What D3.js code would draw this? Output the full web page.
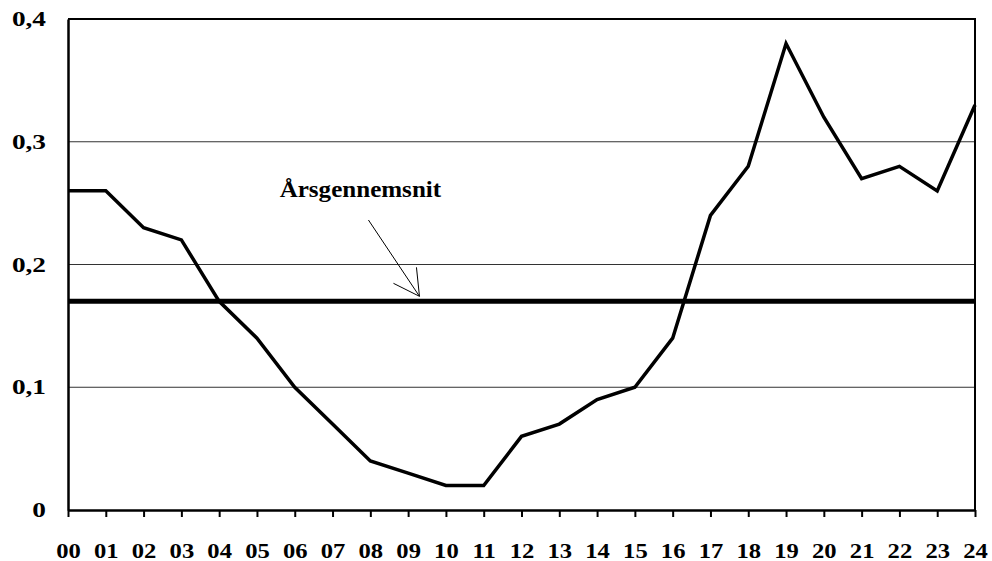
<!DOCTYPE html>
<html>
<head>
<meta charset="utf-8">
<script src="https://cdn.jsdelivr.net/npm/d3@7"></script>
<style>
  body { margin: 0; background: #fff; }
  svg text { font-family: "Liberation Serif", "DejaVu Serif", serif; fill: #000; }
  .wide { transform-box: fill-box; }
</style>
</head>
<body>
<svg id="chart" width="992" height="561"></svg>
<script>
// hours on the x axis
const hours = ["00","01","02","03","04","05","06","07","08","09","10","11","12",
               "13","14","15","16","17","18","19","20","21","22","23","24"];
// hourly values
const values = [0.26,0.26,0.23,0.22,0.17,0.14,0.10,0.07,0.04,0.03,0.02,0.02,0.06,
                0.07,0.09,0.10,0.14,0.24,0.28,0.38,0.32,0.27,0.28,0.26,0.33];
const yearAverage = 0.17;
const yTicks = [0, 0.1, 0.2, 0.3, 0.4];
const yTickLabels = ["0", "0,1", "0,2", "0,3", "0,4"];
const noteText = "Årsgennemsnit";

const margin = {left: 68, right: 17, top: 19, bottom: 51};
const width = 992, height = 561;

const svg = d3.select("#chart");

const x = d3.scalePoint()
    .domain(hours)
    .range([margin.left, width - margin.right]);

const y = d3.scaleLinear()
    .domain([0, 0.4])
    .range([height - margin.bottom, margin.top]);

// gridlines
svg.append("g")
    .selectAll("line")
    .data(yTicks.filter(d => d > 0 && d < 0.4))
    .enter()
    .append("line")
    .attr("x1", margin.left)
    .attr("x2", width - margin.right)
    .attr("y1", d => y(d))
    .attr("y2", d => y(d))
    .style("stroke", "#333")
    .style("stroke-width", 1);

// frame: top and right
svg.append("path")
    .attr("d", `M${margin.left},${y(0.4)}H${width - margin.right}V${y(0)}`)
    .style("fill", "none")
    .style("stroke", "#000")
    .style("stroke-width", 2);

// x axis
const xAxis = svg.append("g")
    .attr("transform", `translate(0,${y(0)})`)
    .call(d3.axisBottom(x).tickSize(7).tickSizeOuter(0).tickPadding(25));
xAxis.select(".domain").style("stroke-width", 2.5);
xAxis.selectAll(".tick line").style("stroke-width", 2);
xAxis.selectAll(".tick text")
    .attr("class", "wide")
    .style("font-size", "22px")
    .style("font-weight", "bold")
    .style("transform-origin", "center")
    .style("transform", "scaleX(1.12)")
    .attr("font-family", null);

// y axis
const yAxis = svg.append("g")
    .attr("transform", `translate(${margin.left},0)`)
    .call(d3.axisLeft(y).tickValues(yTicks).tickSize(0).tickPadding(22)
        .tickFormat((d, i) => yTickLabels[i]));
yAxis.select(".domain").style("stroke-width", 2.5);
yAxis.selectAll(".tick text")
    .attr("class", "wide")
    .style("font-size", "21px")
    .style("font-weight", "bold")
    .style("transform-origin", "right center")
    .style("transform", "scaleX(1.3)")
    .attr("font-family", null);

// yearly average
svg.append("line")
    .attr("x1", margin.left)
    .attr("x2", width - margin.right)
    .attr("y1", y(yearAverage))
    .attr("y2", y(yearAverage))
    .style("stroke", "#000")
    .style("stroke-width", 5);

// hourly line
const line = d3.line()
    .x((d, i) => x(hours[i]))
    .y(d => y(d));

svg.append("path")
    .datum(values)
    .attr("d", line)
    .style("fill", "none")
    .style("stroke", "#000")
    .style("stroke-width", 3.5)
    .style("stroke-linejoin", "miter");

// annotation
const noteX = x("05") + 0.6 * x.step(), noteY = 197;
svg.append("text")
    .attr("class", "wide")
    .attr("x", noteX)
    .attr("y", noteY)
    .style("font-size", "23px")
    .style("font-weight", "bold")
    .style("transform-origin", "left center")
    .style("transform", "scaleX(1.09)")
    .text(noteText);

const tip = [x("09") + 0.3 * x.step(), y(yearAverage) - 5];
const tail = [x("08") - 0.05 * x.step(), 220];
svg.append("line")
    .attr("x1", tail[0]).attr("y1", tail[1])
    .attr("x2", tip[0]).attr("y2", tip[1])
    .style("stroke", "#000")
    .style("stroke-width", 1);
svg.append("path")
    .attr("d", `M${tip[0] - 26},${tip[1] - 13}L${tip[0]},${tip[1]}L${tip[0] - 3},${tip[1] - 29}`)
    .style("fill", "none")
    .style("stroke", "#000")
    .style("stroke-width", 1);
</script>
</body>
</html>
